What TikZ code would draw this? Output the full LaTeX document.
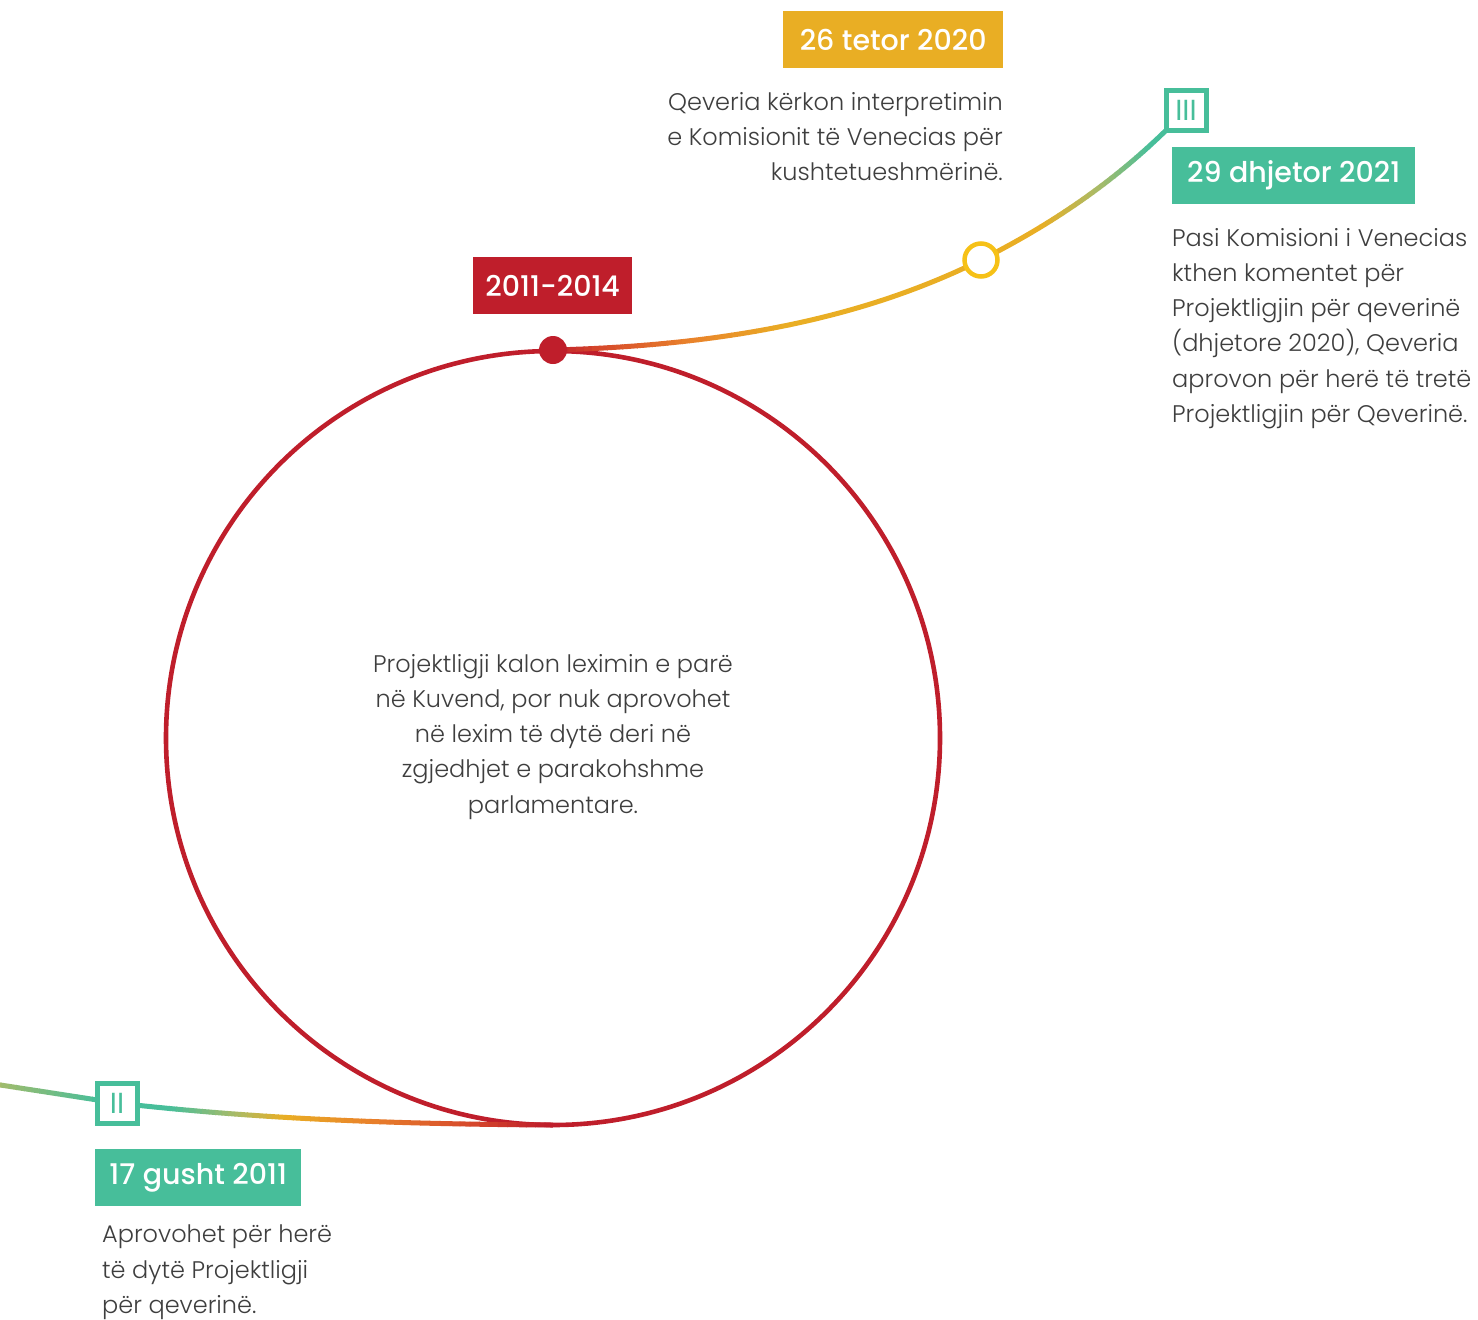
\documentclass[tikz,border=0pt]{standalone}
\usepackage{fontspec}
\setmainfont{Poppins Light}
\newfontfamily\labelfont{Poppins Medium}
\newfontfamily\markfont{Poppins}
\definecolor{cred}{HTML}{BF1E2B}
\definecolor{cgold}{HTML}{E9AE24}
\definecolor{cyel}{HTML}{F6C117}
\definecolor{cgreen}{HTML}{47BE9A}
\definecolor{colive}{HTML}{A7BB69}
\definecolor{corange}{HTML}{E9822B}
\definecolor{cdorange}{HTML}{D6492B}
\definecolor{ctext}{HTML}{3E3E3E}
\newcommand\gradseg[6]{%
  \foreach \k in {1,...,#6}{%
    \pgfmathsetmacro\xs{#2+(\k-1)*(#3-#2)/#6-0.3}%
    \pgfmathsetmacro\xe{#2+\k*(#3-#2)/#6+0.3}%
    \pgfmathsetmacro\pc{100*(\k-0.5)/#6}%
    \begin{scope}
      \clip (\xs,-20) rectangle (\xe,1400);
      \draw[conn, color=#5!\pc!#4] #1;
    \end{scope}
  }}
\begin{document}
\begin{tikzpicture}[x=1pt,y=-1pt,
  conn/.style={line width=5pt},
  datebox/.style={fill=#1, text=white, font=\labelfont\fontsize{28.5}{30}\selectfont, inner sep=0pt, minimum height=57pt, anchor=north west},
  body/.style={text=ctext, font=\fontsize{24}{35.2}\selectfont, inner sep=0pt},
  sqmark/.style={draw=cgreen, line width=5pt, fill=white, minimum size=40pt, inner sep=0pt, text=cgreen, font=\markfont\fontsize{29}{29}\selectfont}
]
\useasboundingbox (0,0) rectangle (1478,1320);
% coordinates
\coordinate (cen) at (553,738);
\coordinate (cbot) at (553,1125);
\coordinate (lft) at (-6,1084);
\coordinate (ca1) at (750,345);
\coordinate (ca2) at (880,310);
\coordinate (cb1) at (1050,225);
\coordinate (cb2) at (1120,180);
\coordinate (cd1) at (250,1118);
\coordinate (cd2) at (380,1124);
\coordinate (pdot) at (553,350);
\coordinate (pyc) at (981,260);
\coordinate (psq3) at (1186,110);
\coordinate (psq2) at (117,1103);
% big circle
\draw[cred, line width=4.6pt] (cen) circle[radius=387];
% segment dot -> yellow circle
\def\pathA{(pdot) .. controls (ca1) and (ca2) .. (pyc)}
\gradseg{\pathA}{553}{600}{cred}{cdorange}{6}
\gradseg{\pathA}{600}{690}{cdorange}{corange}{12}
\gradseg{\pathA}{690}{790}{corange}{cgold}{12}
\gradseg{\pathA}{790}{985}{cgold}{cgold}{1}
% segment yellow circle -> III
\def\pathB{(pyc) .. controls (cb1) and (cb2) .. (psq3)}
\gradseg{\pathB}{975}{1040}{cgold}{cgold}{1}
\gradseg{\pathB}{1040}{1100}{cgold}{colive}{10}
\gradseg{\pathB}{1100}{1150}{colive}{cgreen}{10}
\gradseg{\pathB}{1150}{1190}{cgreen}{cgreen}{1}
% segment left -> II
\def\pathC{(lft) -- (psq2)}
\gradseg{\pathC}{-6}{100}{colive}{cgreen}{14}
% segment II -> bottom of circle
\def\pathD{(psq2) .. controls (cd1) and (cd2) .. (cbot)}
\gradseg{\pathD}{110}{170}{cgreen}{cgreen}{1}
\gradseg{\pathD}{170}{235}{cgreen}{colive}{10}
\gradseg{\pathD}{235}{285}{colive}{cgold}{8}
\gradseg{\pathD}{285}{370}{cgold}{corange}{10}
\gradseg{\pathD}{370}{470}{corange}{cdorange}{10}
\gradseg{\pathD}{470}{545}{cdorange}{cred}{8}
\gradseg{\pathD}{545}{556}{cred}{cred}{1}
% markers
\node[circle, fill=cred, minimum size=28pt, inner sep=0pt] (dot) at (pdot) {};
\node[circle, draw=cyel, line width=4.5pt, fill=white, minimum size=33pt, inner sep=0pt] (yc) at (pyc) {};
\node[sqmark] (sq3) at (psq3) {III};
\node[sqmark] (sq2) at (psq2) {II};
% date boxes
\node[datebox=cgold, minimum width=220pt] (d1) at (783,11) {26 tetor 2020};
\node[datebox=cgreen, minimum width=243pt] (d2) at (1172,147) {29 dhjetor 2021};
\node[datebox=cred, minimum width=159pt] (d3) at (473,257) {2011-2014};
\node[datebox=cgreen, minimum width=206pt] (d4) at (95,1149) {17 gusht 2011};
% body texts
\node[body, align=right, anchor=north east] (t1) at (1003,92) {Qeveria kërkon interpretimin\\e Komisionit të Venecias për\\kushtetueshmërinë.};
\node[body, align=left, anchor=north west] (t2) at (1172,228) {Pasi Komisioni i Venecias\\kthen komentet për\\Projektligjin për qeverinë\\(dhjetore 2020), Qeveria\\aprovon për herë të tretë\\Projektligjin për Qeverinë.};
\node[body, align=center, anchor=north] (t3) at (553,654) {Projektligji kalon leximin e parë\\në Kuvend, por nuk aprovohet\\në lexim të dytë deri në\\zgjedhjet e parakohshme\\parlamentare.};
\node[body, align=left, anchor=north west] (t4) at (102,1225) {Aprovohet për herë\\të dytë Projektligji\\për qeverinë.};
\end{tikzpicture}
\end{document}
